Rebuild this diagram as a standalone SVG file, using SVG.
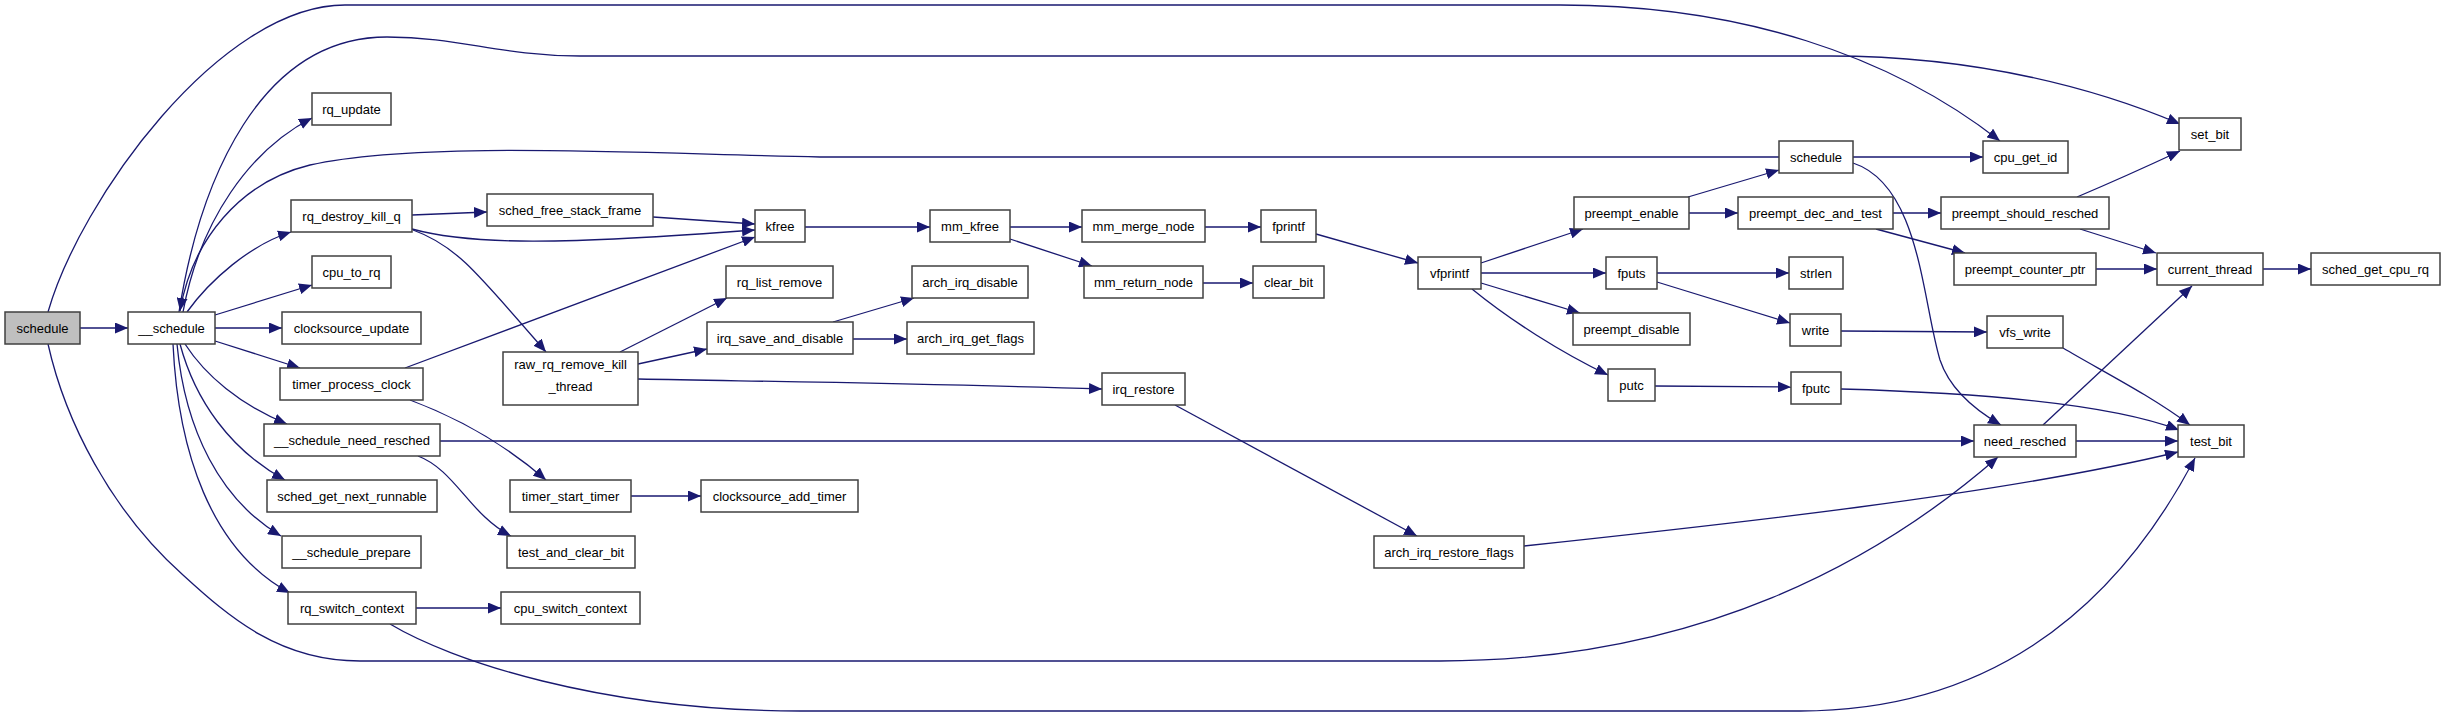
<svg xmlns="http://www.w3.org/2000/svg" width="2445" height="717" viewBox="0 0 2445 717">
<defs>
<style>
.n rect{fill:#ffffff;stroke:#404040;stroke-width:1.5}
.n.root rect{fill:#bfbfbf}
.n text{font-family:"Liberation Sans",Arial,sans-serif;font-size:13px;text-anchor:middle;fill:#000}
.e path{fill:none;stroke:#191970;stroke-width:1.3;marker-end:url(#a)}
</style>
<marker id="a" markerUnits="userSpaceOnUse" markerWidth="14" markerHeight="11" refX="13" refY="5.5" orient="auto" viewBox="0 0 14 11"><path d="M0,0 L13,5.5 L0,11 z" fill="#191970"/></marker>
</defs>
<rect width="2445" height="717" fill="#ffffff"/>
<g id="edges" class="e">
<path d="M80,328 L128,328"/>
<path d="M48,312 C80,200 220,5 345,5 L1560,5 C1740,5 1890,55 2000,141"/>
<path d="M48,344 C65,420 110,510 183,575 C230,618 280,661 360,661 L1440,661 C1700,661 1880,560 1998,457"/>
<path d="M179,312 C200,180 260,37 387,37 C460,37 500,56 580,56 L1830,56 C1980,56 2100,90 2180,124"/>
<path d="M183,312 C200,220 250,150 312,118"/>
<path d="M1779,157 L820,157 C650,154 420,140 310,165 C240,182 192,240 180,311"/>
<path d="M187,312 C210,280 250,245 291,232"/>
<path d="M215,315 L312,285"/>
<path d="M215,328 L282,328"/>
<path d="M215,341 L300,368"/>
<path d="M185,344 C205,375 240,405 287,424"/>
<path d="M180,344 C195,400 230,450 285,480"/>
<path d="M177,344 C185,430 220,500 281,536"/>
<path d="M173,344 C178,450 210,550 290,593"/>
<path d="M412,215 L487,212"/>
<path d="M412,229 C470,245 560,245 755,230"/>
<path d="M413,230 C455,245 475,270 546,352"/>
<path d="M653,217 L755,224"/>
<path d="M405,368 L755,237"/>
<path d="M410,400 C450,415 500,440 546,480"/>
<path d="M440,441 L1974,441"/>
<path d="M418,456 C455,470 470,515 511,536"/>
<path d="M631,496 L701,496"/>
<path d="M416,608 L501,608"/>
<path d="M390,624 C450,660 600,711 800,711 L1800,711 C1980,711 2110,620 2195,458"/>
<path d="M620,352 L727,298"/>
<path d="M638,364 L707,349"/>
<path d="M638,379 C800,382 950,384 1102,389"/>
<path d="M833,322 L914,298"/>
<path d="M853,339 L907,339"/>
<path d="M805,227 L930,227"/>
<path d="M1010,227 L1082,227"/>
<path d="M1010,239 L1092,266"/>
<path d="M1205,227 L1261,227"/>
<path d="M1203,283 L1253,283"/>
<path d="M1316,234 L1418,263"/>
<path d="M1481,263 L1583,229"/>
<path d="M1481,273 L1606,273"/>
<path d="M1481,283 L1580,313"/>
<path d="M1472,289 C1510,320 1560,352 1608,375"/>
<path d="M1175,405 L1417,536"/>
<path d="M1524,546 C1720,525 2000,495 2178,452"/>
<path d="M1655,386 L1791,387"/>
<path d="M1841,389 C1950,392 2100,400 2179,430"/>
<path d="M2076,441 L2178,441"/>
<path d="M2043,425 L2192,286"/>
<path d="M2063,348 C2100,370 2150,395 2190,425"/>
<path d="M1853,163 C1920,185 1922,300 1940,360 C1950,390 1975,410 2001,425"/>
<path d="M1853,157 L1983,157"/>
<path d="M1688,197 L1779,170"/>
<path d="M1689,213 L1738,213"/>
<path d="M1893,213 L1941,213"/>
<path d="M1876,229 L1965,253"/>
<path d="M2077,197 C2110,183 2150,165 2180,151"/>
<path d="M2080,229 L2156,253"/>
<path d="M2096,269 L2157,269"/>
<path d="M2263,269 L2311,269"/>
<path d="M1657,273 L1789,273"/>
<path d="M1657,282 L1790,323"/>
<path d="M1841,331 L1987,332"/>
</g>
<g id="n_schedule" class="n root"><rect x="5" y="312" width="75" height="32"/><text x="42.5" y="333">schedule</text></g>
<g id="n___schedule" class="n"><rect x="128" y="312" width="87" height="32"/><text x="171.5" y="333">__schedule</text></g>
<g id="n_rq_update" class="n"><rect x="312" y="93" width="79" height="32"/><text x="351.5" y="114">rq_update</text></g>
<g id="n_rq_destroy_kill_q" class="n"><rect x="291" y="200" width="121" height="32"/><text x="351.5" y="221">rq_destroy_kill_q</text></g>
<g id="n_cpu_to_rq" class="n"><rect x="312" y="256" width="79" height="32"/><text x="351.5" y="277">cpu_to_rq</text></g>
<g id="n_clocksource_update" class="n"><rect x="282" y="312" width="139" height="32"/><text x="351.5" y="333">clocksource_update</text></g>
<g id="n_timer_process_clock" class="n"><rect x="280" y="368" width="143" height="32"/><text x="351.5" y="389">timer_process_clock</text></g>
<g id="n___schedule_need_resched" class="n"><rect x="264" y="424" width="176" height="32"/><text x="352" y="445">__schedule_need_resched</text></g>
<g id="n_sched_get_next_runnable" class="n"><rect x="267" y="480" width="170" height="32"/><text x="352" y="501">sched_get_next_runnable</text></g>
<g id="n___schedule_prepare" class="n"><rect x="282" y="536" width="139" height="32"/><text x="351.5" y="557">__schedule_prepare</text></g>
<g id="n_rq_switch_context" class="n"><rect x="288" y="592" width="128" height="32"/><text x="352" y="613">rq_switch_context</text></g>
<g id="n_sched_free_stack_frame" class="n"><rect x="487" y="194" width="166" height="32"/><text x="570" y="215">sched_free_stack_frame</text></g>
<g id="n_raw_rq_remove_kill_thread" class="n"><rect x="503" y="352" width="135" height="53"/><text x="570.5" y="369">raw_rq_remove_kill</text><text x="570.5" y="391">_thread</text></g>
<g id="n_timer_start_timer" class="n"><rect x="510" y="480" width="121" height="32"/><text x="570.5" y="501">timer_start_timer</text></g>
<g id="n_test_and_clear_bit" class="n"><rect x="507" y="536" width="128" height="32"/><text x="571" y="557">test_and_clear_bit</text></g>
<g id="n_cpu_switch_context" class="n"><rect x="501" y="592" width="139" height="32"/><text x="570.5" y="613">cpu_switch_context</text></g>
<g id="n_kfree" class="n"><rect x="755" y="210" width="50" height="32"/><text x="780" y="231">kfree</text></g>
<g id="n_rq_list_remove" class="n"><rect x="726" y="266" width="107" height="32"/><text x="779.5" y="287">rq_list_remove</text></g>
<g id="n_irq_save_and_disable" class="n"><rect x="707" y="322" width="146" height="32"/><text x="780" y="343">irq_save_and_disable</text></g>
<g id="n_clocksource_add_timer" class="n"><rect x="701" y="480" width="157" height="32"/><text x="779.5" y="501">clocksource_add_timer</text></g>
<g id="n_arch_irq_disable" class="n"><rect x="912" y="266" width="116" height="32"/><text x="970" y="287">arch_irq_disable</text></g>
<g id="n_arch_irq_get_flags" class="n"><rect x="907" y="322" width="127" height="32"/><text x="970.5" y="343">arch_irq_get_flags</text></g>
<g id="n_mm_kfree" class="n"><rect x="930" y="210" width="80" height="32"/><text x="970" y="231">mm_kfree</text></g>
<g id="n_mm_merge_node" class="n"><rect x="1082" y="210" width="123" height="32"/><text x="1143.5" y="231">mm_merge_node</text></g>
<g id="n_mm_return_node" class="n"><rect x="1084" y="266" width="119" height="32"/><text x="1143.5" y="287">mm_return_node</text></g>
<g id="n_irq_restore" class="n"><rect x="1102" y="373" width="83" height="32"/><text x="1143.5" y="394">irq_restore</text></g>
<g id="n_fprintf" class="n"><rect x="1261" y="210" width="55" height="32"/><text x="1288.5" y="231">fprintf</text></g>
<g id="n_clear_bit" class="n"><rect x="1253" y="266" width="71" height="32"/><text x="1288.5" y="287">clear_bit</text></g>
<g id="n_arch_irq_restore_flags" class="n"><rect x="1374" y="536" width="150" height="32"/><text x="1449" y="557">arch_irq_restore_flags</text></g>
<g id="n_vfprintf" class="n"><rect x="1418" y="257" width="63" height="32"/><text x="1449.5" y="278">vfprintf</text></g>
<g id="n_preempt_enable" class="n"><rect x="1574" y="197" width="115" height="32"/><text x="1631.5" y="218">preempt_enable</text></g>
<g id="n_fputs" class="n"><rect x="1606" y="257" width="51" height="32"/><text x="1631.5" y="278">fputs</text></g>
<g id="n_preempt_disable" class="n"><rect x="1573" y="313" width="117" height="32"/><text x="1631.5" y="334">preempt_disable</text></g>
<g id="n_putc" class="n"><rect x="1608" y="369" width="47" height="32"/><text x="1631.5" y="390">putc</text></g>
<g id="n_schedule2" class="n"><rect x="1779" y="141" width="74" height="32"/><text x="1816" y="162">schedule</text></g>
<g id="n_preempt_dec_and_test" class="n"><rect x="1738" y="197" width="155" height="32"/><text x="1815.5" y="218">preempt_dec_and_test</text></g>
<g id="n_strlen" class="n"><rect x="1789" y="257" width="54" height="32"/><text x="1816" y="278">strlen</text></g>
<g id="n_write" class="n"><rect x="1790" y="314" width="51" height="32"/><text x="1815.5" y="335">write</text></g>
<g id="n_fputc" class="n"><rect x="1791" y="372" width="50" height="32"/><text x="1816" y="393">fputc</text></g>
<g id="n_cpu_get_id" class="n"><rect x="1983" y="141" width="85" height="32"/><text x="2025.5" y="162">cpu_get_id</text></g>
<g id="n_preempt_should_resched" class="n"><rect x="1941" y="197" width="168" height="32"/><text x="2025" y="218">preempt_should_resched</text></g>
<g id="n_preempt_counter_ptr" class="n"><rect x="1954" y="253" width="142" height="32"/><text x="2025" y="274">preempt_counter_ptr</text></g>
<g id="n_vfs_write" class="n"><rect x="1987" y="316" width="76" height="32"/><text x="2025" y="337">vfs_write</text></g>
<g id="n_need_resched" class="n"><rect x="1974" y="425" width="102" height="32"/><text x="2025" y="446">need_resched</text></g>
<g id="n_current_thread" class="n"><rect x="2157" y="253" width="106" height="32"/><text x="2210" y="274">current_thread</text></g>
<g id="n_set_bit" class="n"><rect x="2179" y="118" width="62" height="32"/><text x="2210" y="139">set_bit</text></g>
<g id="n_test_bit" class="n"><rect x="2178" y="425" width="66" height="32"/><text x="2211" y="446">test_bit</text></g>
<g id="n_sched_get_cpu_rq" class="n"><rect x="2311" y="253" width="129" height="32"/><text x="2375.5" y="274">sched_get_cpu_rq</text></g>
</svg>
